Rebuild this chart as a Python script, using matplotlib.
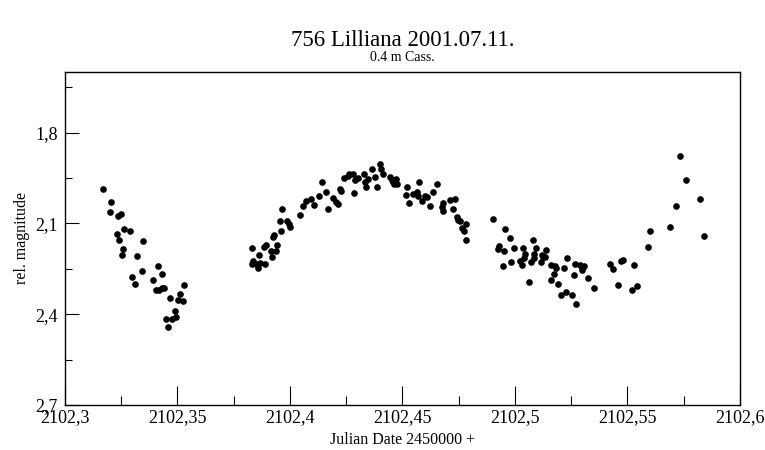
import numpy as np
import matplotlib
matplotlib.use('Agg')
import matplotlib.pyplot as plt
from matplotlib.ticker import MultipleLocator, FuncFormatter

plt.rcParams['font.family'] = ['Liberation Serif', 'DejaVu Serif']

TITLE = '756 Lilliana 2001.07.11.'
SUBTITLE = '0.4 m Cass.'
X_LABEL = 'Julian Date 2450000 +'
Y_LABEL = 'rel. magnitude'

# JD - 2450000
jd = [
    # first night segment (descending branch)
    2102.3170, 2102.3204, 2102.3199, 2102.3237, 2102.3248, 2102.3264, 2102.3288,
    2102.3231, 2102.3241, 2102.3345, 2102.3259, 2102.3253, 2102.3321, 2102.3415,
    2102.3341, 2102.3431, 2102.3299, 2102.3310, 2102.3391, 2102.3529, 2102.3403,
    2102.3418, 2102.3430, 2102.3441, 2102.3512, 2102.3467, 2102.3501, 2102.3523,
    2102.3489, 2102.3495, 2102.3477, 2102.3448, 2102.3456,
    # rising branch
    2102.3830, 2102.3884, 2102.3892, 2102.3864, 2102.3837, 2102.3849, 2102.3831,
    2102.3867, 2102.3888, 2102.3858, 2102.3916, 2102.3938, 2102.3919, 2102.3944,
    2102.3923, 2102.3929, 2102.3961, 2102.3956, 2102.3985, 2102.3994, 2102.3999,
    2102.3966, 2102.4044, 2102.4059, 2102.4072, 2102.4095, 2102.4107, 2102.4129,
    2102.4144, 2102.4159, 2102.4170, 2102.4190, 2102.4203, 2102.4213, 2102.4225,
    2102.4222, 2102.4241, 2102.4259,
    # maximum
    2102.4264, 2102.4281, 2102.4289, 2102.4304, 2102.4284, 2102.4329, 2102.4333,
    2102.4338, 2102.4348, 2102.4363, 2102.4379, 2102.4385, 2102.4400, 2102.4403,
    2102.4412, 2102.4444, 2102.4452, 2102.4459, 2102.4471, 2102.4477, 2102.4462,
    2102.4519, 2102.4576, 2102.4656, 2102.4514, 2102.4548, 2102.4563, 2102.4570,
    2102.4600, 2102.4610, 2102.4588, 2102.4530, 2102.4622, 2102.4634, 2102.4681,
    2102.4676, 2102.4681, 2102.4711, 2102.4733, 2102.4726, 2102.4741, 2102.4748,
    2102.4756, 2102.4781, 2102.4763, 2102.4773, 2102.4785,
    # second minimum
    2102.4905, 2102.4957, 2102.4978, 2102.4930, 2102.4926, 2102.4951, 2102.4997,
    2102.5037, 2102.5079, 2102.5093, 2102.5044, 2102.5086, 2102.5119, 2102.5138,
    2102.5126, 2102.5135, 2102.5041, 2102.5084, 2102.4947, 2102.4982, 2102.5022,
    2102.5030, 2102.5070, 2102.5116, 2102.5159, 2102.5179, 2102.5185, 2102.5173,
    2102.5219, 2102.5234, 2102.5268, 2102.5289, 2102.5298, 2102.5308, 2102.5299,
    2102.5265, 2102.5324, 2102.5061, 2102.5161, 2102.5190, 2102.5350, 2102.5227,
    2102.5255, 2102.5203, 2102.5274,
    # last segment
    2102.5425, 2102.5436, 2102.5474, 2102.5483, 2102.5529, 2102.5458, 2102.5520,
    2102.5541, 2102.5594, 2102.5601, 2102.5690, 2102.5716, 2102.5759, 2102.5736,
    2102.5825, 2102.5840,
]

mag = [
    1.986, 2.030, 2.063, 2.077, 2.070, 2.117, 2.126,
    2.134, 2.154, 2.159, 2.186, 2.206, 2.208, 2.242,
    2.259, 2.268, 2.276, 2.300, 2.288, 2.304, 2.320,
    2.319, 2.315, 2.315, 2.333, 2.348, 2.354, 2.358,
    2.388, 2.409, 2.416, 2.415, 2.442,
    2.183, 2.177, 2.170, 2.206, 2.225, 2.233, 2.234,
    2.230, 2.234, 2.247, 2.191, 2.192, 2.211, 2.170,
    2.145, 2.137, 2.126, 2.091, 2.093, 2.103, 2.111,
    2.053, 2.071, 2.043, 2.026, 2.021, 2.038, 2.009,
    1.964, 1.995, 2.054, 2.017, 2.030, 2.035, 1.992,
    1.986, 1.951, 1.942,
    1.938, 1.936, 1.956, 1.949, 2.000, 1.936, 1.964,
    1.980, 1.953, 1.920, 1.947, 1.980, 1.903, 1.920,
    1.938, 1.947, 1.958, 1.964, 1.953, 1.969, 1.971,
    1.980, 1.964, 1.971, 2.005, 2.002, 1.997, 2.008,
    2.008, 2.013, 2.026, 2.032, 2.042, 1.997, 2.032,
    2.046, 2.059, 2.022, 2.019, 2.052, 2.079, 2.090,
    2.092, 2.101, 2.114, 2.125, 2.154,
    2.084, 2.120, 2.148, 2.176, 2.186, 2.191, 2.181,
    2.181, 2.156, 2.183, 2.202, 2.200, 2.203, 2.189,
    2.211, 2.210, 2.216, 2.216, 2.241, 2.228, 2.225,
    2.238, 2.228, 2.228, 2.238, 2.242, 2.249, 2.266,
    2.247, 2.214, 2.233, 2.238, 2.244, 2.242, 2.255,
    2.269, 2.282, 2.293, 2.288, 2.300, 2.312, 2.326,
    2.336, 2.338, 2.365,
    2.235, 2.251, 2.224, 2.221, 2.236, 2.303, 2.320,
    2.308, 2.177, 2.125, 2.111, 2.043, 1.957, 1.878,
    2.019, 2.143,
]

X_MIN, X_MAX = 2102.3, 2102.6
Y_MIN, Y_MAX = 1.6, 2.7


def comma_fmt(v, pos):
    return f'{v:.6g}'.replace('.', ',')


def comma_fmt_y(v, pos):
    return f'{v:.1f}'.replace('.', ',')


fig = plt.figure(figsize=(7.65, 4.5), dpi=100)
ax = fig.add_axes([0.085, 0.10, 0.882, 0.74])

ax.plot(jd, mag, 'o', color='black', markersize=4.8, markeredgewidth=0)

ax.set_xlim(X_MIN, X_MAX)
ax.set_ylim(Y_MAX, Y_MIN)

ax.xaxis.set_major_locator(MultipleLocator(0.05))
ax.xaxis.set_minor_locator(MultipleLocator(0.025))
ax.yaxis.set_major_locator(MultipleLocator(0.3))
ax.yaxis.set_minor_locator(MultipleLocator(0.15))
ax.xaxis.set_major_formatter(FuncFormatter(comma_fmt))
ax.yaxis.set_major_formatter(FuncFormatter(comma_fmt_y))

ax.tick_params(axis='x', which='major', direction='in', length=14, width=0.8,
               labelsize=13, pad=3)
ax.tick_params(axis='x', which='minor', direction='in', length=6.5, width=0.8)
ax.tick_params(axis='y', which='major', direction='in', length=10, width=0.8,
               labelsize=13, pad=5)
ax.tick_params(axis='y', which='minor', direction='in', length=5, width=0.8)
ax.tick_params(top=False, right=False, which='both')

for s in ax.spines.values():
    s.set_linewidth(1.0)

ax.set_xlabel(X_LABEL, fontsize=11.5, labelpad=4)
ax.set_ylabel(Y_LABEL, fontsize=11.5, labelpad=4)

fig.text(0.526, 0.910, TITLE, ha='center', va='center', fontsize=16.5)
fig.text(0.526, 0.872, SUBTITLE, ha='center', va='center', fontsize=10)

fig.savefig('out.png', dpi=100)
